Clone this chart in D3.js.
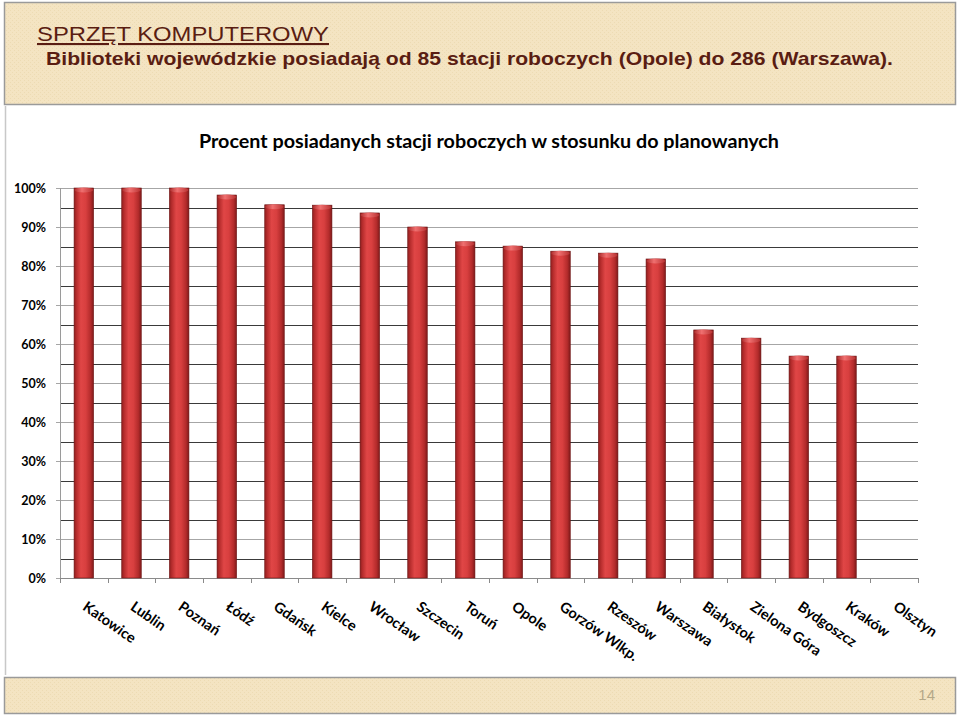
<!DOCTYPE html>
<html><head><meta charset="utf-8">
<script src="https://cdn.jsdelivr.net/npm/d3@7"></script>
<style>body{margin:0;background:#fff}svg{display:block}</style>
</head><body>
<svg id="c" width="960" height="716"></svg>
<script>
const categories = ["Katowice","Lublin","Poznań","Łódź","Gdańsk","Kielce","Wrocław","Szczecin","Toruń","Opole","Gorzów Wlkp.","Rzeszów","Warszawa","Białystok","Zielona Góra","Bydgoszcz","Kraków","Olsztyn"];
const values = [100,100,100,98.2,95.7,95.6,93.6,90,86.2,85.1,83.8,83.3,81.8,63.6,61.5,56.9,56.9,0];
const yTicks = [0,10,20,30,40,50,60,70,80,90,100];
const gridSteps = d3.range(0,101,5);
const headerTitle = "SPRZĘT KOMPUTEROWY";
const headerText = "Biblioteki wojewódzkie posiadają od 85 stacji roboczych (Opole) do 286 (Warszawa).";
const chartTitle = "Procent posiadanych stacji roboczych w stosunku do planowanych";
const pageNumber = "14";

const svg = d3.select("#c");
const defs = svg.append("defs");

// beige texture
const pat = defs.append("pattern").attr("id","tex").attr("width",4).attr("height",4).attr("patternUnits","userSpaceOnUse");
pat.append("rect").attr("width",4).attr("height",4).attr("fill","#f4e4c2");
pat.append("rect").attr("x",0).attr("y",0).attr("width",1).attr("height",1).attr("fill","#eddbb3");
pat.append("rect").attr("x",2).attr("y",2).attr("width",1).attr("height",1).attr("fill","#eddbb3");

// bar gradient
const g1 = defs.append("linearGradient").attr("id","barG").attr("x1","0").attr("x2","1").attr("y1","0").attr("y2","0");
[[0,"#8e1f1f"],[0.12,"#b52c2c"],[0.35,"#e04646"],[0.6,"#d83f3f"],[0.85,"#b32b2b"],[1,"#7e1a1a"]].forEach(([o,c])=>g1.append("stop").attr("offset",o).attr("stop-color",c));
const g2 = defs.append("linearGradient").attr("id","capG").attr("x1","0").attr("x2","1").attr("y1","0").attr("y2","0");
[[0,"#b03030"],[0.4,"#f07070"],[1,"#b83232"]].forEach(([o,c])=>g2.append("stop").attr("offset",o).attr("stop-color",c));

// header band
svg.append("rect").attr("x",4.5).attr("y",2.5).attr("width",951).attr("height",102).attr("fill","url(#tex)").attr("stroke","#9a9a9a").attr("stroke-width",1.5);
svg.append("text").attr("x",37).attr("y",41).attr("font-family","Liberation Sans, Arial, sans-serif").attr("font-size",21)
  .attr("textLength",292).attr("lengthAdjust","spacingAndGlyphs")
  .attr("fill","#5a1d12").attr("text-decoration","underline").text(headerTitle);
svg.append("text").attr("x",46).attr("y",65).attr("font-family","Liberation Sans, Arial, sans-serif").attr("font-weight","bold").attr("font-size",18.5)
  .attr("textLength",847).attr("lengthAdjust","spacingAndGlyphs")
  .attr("fill","#5a1d12").text(headerText);

// chart area left border
svg.append("line").attr("x1",5.5).attr("x2",5.5).attr("y1",106).attr("y2",675).attr("stroke","#c8c8c8").attr("stroke-width",1.5);

// footer band
svg.append("rect").attr("x",4.5).attr("y",677.5).attr("width",951).attr("height",36).attr("fill","url(#tex)").attr("stroke","#9a9a9a").attr("stroke-width",1.5);
svg.append("text").attr("x",935).attr("y",700).attr("text-anchor","end").attr("font-family","Liberation Sans, Arial, sans-serif").attr("font-size",15).attr("fill","#b4a888").text(pageNumber);

// chart title
svg.append("text").attr("x",199).attr("y",148).attr("font-family","Lato, sans-serif").attr("font-weight","bold").attr("font-size",18.5)
  .attr("textLength",580).attr("lengthAdjust","spacingAndGlyphs").attr("fill","#000").text(chartTitle);

const x = d3.scaleBand().domain(categories).range([60,918]).paddingInner(0.59).paddingOuter(0.295);
const xStep = d3.scaleBand().domain(categories).range([60,918]).padding(0);
const y = d3.scaleLinear().domain([0,100]).range([578,188]);

// gridlines
svg.append("g").selectAll("line").data(gridSteps).join("line")
  .attr("x1",d=>d%10===0?56:60).attr("x2",918)
  .attr("y1",d=>Math.round(y(d))+0.5).attr("y2",d=>Math.round(y(d))+0.5)
  .attr("stroke",d=>d%10===0?"#a6a6a6":"#3a3a3a").attr("stroke-width",d=>d%10===0?1:1.2);

// y axis line
svg.append("line").attr("x1",60.5).attr("x2",60.5).attr("y1",188).attr("y2",578).attr("stroke","#9a9a9a");

// y labels
const yAxis = d3.axisLeft(y).tickValues(yTicks).tickFormat(d=>d+"%").tickSize(0).tickPadding(14);
const ya = svg.append("g").attr("transform","translate(60,0)").call(yAxis);
ya.select(".domain").remove();
ya.selectAll("text").attr("font-family","Lato, sans-serif").attr("font-weight","bold").attr("font-size",12.5).attr("fill","#000");

// x axis baseline ticks
svg.append("line").attr("x1",60).attr("x2",918).attr("y1",578.5).attr("y2",578.5).attr("stroke","#8a8a8a");
svg.append("g").selectAll("line").data(categories.concat(["__end"])).join("line")
  .attr("x1",(d,i)=>Math.round(i<categories.length?xStep(d):918)+0.5)
  .attr("x2",(d,i)=>Math.round(i<categories.length?xStep(d):918)+0.5)
  .attr("y1",578).attr("y2",583).attr("stroke","#8a8a8a");

// bars
const bars = svg.append("g").selectAll("g").data(categories.map((c,i)=>({c,v:values[i]})).filter(d=>d.v>0)).join("g");
bars.append("rect").attr("x",d=>x(d.c)).attr("y",d=>y(d.v)).attr("width",x.bandwidth()).attr("height",d=>y(0)-y(d.v))
  .attr("fill","url(#barG)").attr("stroke","#6e1515").attr("stroke-width",0.6);
bars.append("ellipse").attr("cx",d=>x(d.c)+x.bandwidth()/2).attr("cy",d=>y(d.v)+2).attr("rx",x.bandwidth()/2-0.5).attr("ry",2.5)
  .attr("fill","url(#capG)");

// x labels
svg.append("g").selectAll("text").data(categories).join("text")
  .attr("transform",d=>`translate(${x(d)+x.bandwidth()/2-2},609) rotate(35)`)
  .attr("font-family","Lato, sans-serif").attr("font-weight","bold").attr("font-size",14.5).attr("fill","#000")
  .text(d=>d);
</script>
</body></html>
